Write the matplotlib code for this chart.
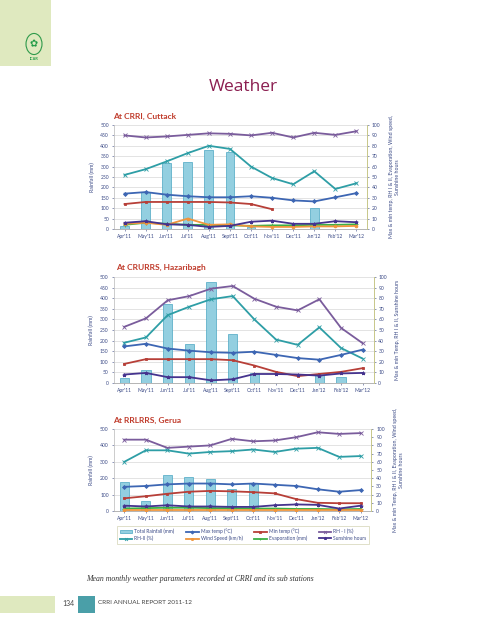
import matplotlib
matplotlib.use("Agg")
import matplotlib.pyplot as plt
from matplotlib.patches import Rectangle, Circle
import numpy as np

plt.rcParams['font.family'] = ['Lato', 'DejaVu Sans']

W, H = 486, 640
nan = np.nan

months = ["Apr'11", "May'11", "Jun'11", "Jul'11", "Aug'11", "Sept'11",
          "Oct'11", "Nov'11", "Dec'11", "Jan'12", "Feb'12", "Mar'12"]

# ---- At CRRI, Cuttack ----
cut_rain = [15, 178, 318, 322, 380, 370, 12, 0, 0, 100, 0, 0]
cut_maxt = [34, 35.5, 33, 31.5, 30.5, 30.5, 31.5, 30, 27.5, 26.5, 30.5, 34.5]
cut_mint = [24, 26, 26, 26, 26, 25.5, 24, 19, nan, nan, nan, nan]
cut_rh1 = [90, 88, 89, 90.5, 92, 91.5, 90, 92.5, 88, 92.5, 90.5, 94]
cut_rh2 = [52, 57.5, 65, 73, 80, 77, 60, 49, 43, 55.5, 38.5, 44]
cut_wind = [5, 6, 4, 10, 4, 4.5, 2.5, 2, 2, 2.5, 2.5, 3]
cut_evap = [4, 6, 5, 4, 4, 3.5, 3, 3.5, 3.5, 4, 4, 4.5]
cut_sun = [6, 7.5, 4.5, 4, 2, 3, 7, 8, 5, 5, 7.5, 6.5]

# ---- At CRURRS, Hazaribagh ----
haz_rain = [25, 60, 372, 183, 475, 233, 45, 0, 0, 40, 30, 0]
haz_maxt = [34.5, 37, 32.5, 30.5, 29, 28.5, 29.5, 26.5, 23.5, 22, 26.5, 31.5]
haz_mint = [18, 22.5, 22.5, 22.5, 22.5, 21.5, 16.5, 10.5, 6.5, 8.5, 10.5, 14]
haz_rh1 = [53, 61, 78, 82, 89, 91.5, 79.5, 72, 68.5, 79, 52, 37.5]
haz_rh2 = [38, 43, 64, 72, 79, 82, 60, 41, 36, 52.5, 33, 23]
haz_sun = [8, 9.5, 5.5, 5.5, 2.5, 3.5, 8.5, 8.5, 8, 7, 9, 9.5]

# ---- At RRLRRS, Gerua ----
ger_rain = [175, 60, 222, 210, 195, 137, 173, 0, 0, 0, 0, 0]
ger_maxt = [29.5, 30.5, 32.5, 33.5, 33.5, 32.5, 33.5, 32, 30.5, 26.5, 23.5, 25.5]
ger_mint = [15.5, 18, 21, 23.5, 24.5, 24, 23, 21.5, 14.5, 10, 9.5, 9.5]
ger_rh1 = [87, 87, 77, 78.5, 80, 88, 85, 86, 90, 96, 94, 95]
ger_rh2 = [60, 74, 74, 70, 72, 73, 75, 72, 76, 77, 66, 67]
ger_wind = [1, 1, 1, 1, 1, 1, 1, 1, 1, 1, 1, 1]
ger_evap = [3, 3.5, 4, 4, 3.5, 3.5, 3, 3, 2.5, 2.5, 2, 2.5]
ger_sun = [6.5, 5.5, 7, 5.5, 5.5, 5, 5, 7, 8, 7.5, 3, 6.5]

labels = {
    "rain": "Total Rainfall (mm)", "maxt": "Max temp (°C)", "mint": "Min temp (°C)",
    "rh1": "RH - I (%)", "rh2": "RH-II (%)", "wind": "Wind Speed (km/h)",
    "evap": "Evaporation (mm)", "sun": "Sunshine hours",
}
colors = {"maxt": "#3d66b3", "mint": "#b73f38", "rh1": "#7a5c9c", "rh2": "#2e9ea6",
          "wind": "#f0953c", "evap": "#3cb045", "sun": "#45338e"}
markers = {"maxt": "D", "mint": "s", "rh1": "x", "rh2": "x", "wind": "o",
           "evap": "+", "sun": "*"}

TICKC = "#3b4a86"


def fx(x):
    return x / W


def fy(y):
    return 1 - y / H


fig = plt.figure(figsize=(W / 100, H / 100), dpi=100)
fig.patch.set_facecolor("white")

# page decoration
fig.patches.append(Rectangle((0, fy(66)), fx(51), 66 / H, transform=fig.transFigure,
                             facecolor="#dfe9bf", edgecolor="none"))
fig.patches.append(Circle((fx(34), fy(44)), 8 / W, transform=fig.transFigure,
                          facecolor="none", edgecolor="#2e9a4a", lw=0.8))
fig.text(fx(34), fy(44), "✿", color="#1f9a45", fontsize=7, ha="center", va="center",
         family=["DejaVu Sans"])
fig.text(fx(34), fy(59), "ICAR", color="#1f9a45", fontsize=2.8, ha="center", va="center",
         fontweight="bold")
fig.text(fx(243), fy(87), "Weather", color="#8b1e50", fontsize=12.5, ha="center",
         va="center", family=["Open Sans", "DejaVu Sans"])

fig.text(fx(86), fy(579), "Mean monthly weather parameters recorded at CRRI and its sub stations",
         fontsize=5.6, style="italic", family=["Liberation Serif", "DejaVu Serif"],
         color="#333333", ha="left", va="center")
fig.patches.append(Rectangle((0, fy(613)), fx(55), 17 / H, transform=fig.transFigure,
                             facecolor="#dfe9bf", edgecolor="none"))
fig.patches.append(Rectangle((fx(78), fy(613)), fx(17), 17 / H, transform=fig.transFigure,
                             facecolor="#4a9fa8", edgecolor="none"))
fig.text(fx(62), fy(603), "134", fontsize=5, color="#444444", ha="left", va="center")
fig.text(fx(98), fy(603), "CRRI ANNUAL REPORT 2011-12", fontsize=4.6, color="#444444",
         ha="left", va="center")


def chart(box, title, title_xy, rain, series, ystep, rlabel):
    x0, x1, ytop, ybot = box
    ax = fig.add_axes([fx(x0), fy(ybot), fx(x1 - x0), (ybot - ytop) / H])
    x = np.arange(len(months))
    bars = ax.bar(x, rain, width=0.42, color="#93cfe0", edgecolor="#4aa6c2", lw=0.5,
                  label=labels["rain"], zorder=2)
    ax.set_xlim(-0.5, len(months) - 0.5)
    ax.set_ylim(0, 500)
    ax.set_yticks(np.arange(0, 501, ystep))
    ax.yaxis.grid(True, color="#d8d8d8", lw=0.5)
    ax.set_axisbelow(True)
    ax.set_xticks(x)
    ax.set_xticklabels(months)
    ax.tick_params(axis="both", labelsize=3.6, colors=TICKC, length=1.5, width=0.4, pad=2)
    ax.set_ylabel("Rainfall (mm)", fontsize=3.8, color=TICKC, labelpad=4)
    for s in ["top", "right"]:
        ax.spines[s].set_visible(False)
    ax.spines["left"].set_color("#c4c4c4")
    ax.spines["bottom"].set_color("#a8a8a8")
    for s in ["left", "bottom"]:
        ax.spines[s].set_linewidth(0.6)

    ax2 = ax.twinx()
    handles = {"rain": bars}
    for key, vals in series:
        ln, = ax2.plot(x, vals, color=colors[key], lw=1.3, marker=markers[key],
                       ms=2.0 if markers[key] not in ("x", "+", "*") else 2.6,
                       mew=0.6, label=labels[key], zorder=3)
        handles[key] = ln
    ax2.set_ylim(0, 100)
    ax2.set_yticks(np.arange(0, 101, 10))
    ax2.tick_params(axis="y", labelsize=3.6, colors=TICKC, length=1.5, width=0.4, pad=2)
    for s in ["top", "left", "bottom"]:
        ax2.spines[s].set_visible(False)
    ax2.spines["right"].set_color("#c7c78a")
    ax2.spines["right"].set_linewidth(0.7)
    ax2.set_ylabel(rlabel, fontsize=3.8, color=TICKC, rotation=90, labelpad=6,
                   linespacing=1.3)
    fig.text(fx(title_xy[0]), fy(title_xy[1]), title, fontsize=6, fontweight="bold",
             color="#c03b2b", ha="left", va="center")
    return ax, handles


chart((114, 367, 125, 229), "At CRRI, Cuttack", (113, 116), cut_rain,
      [("rh1", cut_rh1), ("rh2", cut_rh2), ("maxt", cut_maxt), ("mint", cut_mint),
       ("evap", cut_evap), ("wind", cut_wind), ("sun", cut_sun)], 50,
      "Max & min temp, RH I & II, Evaporation, Wind speed,\nSunshine hours")

chart((113.5, 373.5, 277, 383), "At CRURRS, Hazaribagh", (116, 267),
      haz_rain,
      [("rh1", haz_rh1), ("rh2", haz_rh2), ("maxt", haz_maxt), ("mint", haz_mint),
       ("sun", haz_sun)], 50,
      "Max & min Temp, RH I & II, Sunshine hours")

ax3, h3 = chart((113.6, 371.4, 429, 511), "At RRLRRS, Gerua", (113, 420),
                ger_rain,
                [("rh1", ger_rh1), ("rh2", ger_rh2), ("maxt", ger_maxt), ("mint", ger_mint),
                 ("evap", ger_evap), ("wind", ger_wind), ("sun", ger_sun)], 100,
                "Max & min Temp, RH I & II, Evaporation, Wind speed,\nSunshine hours")

order = ["rain", "rh2", "maxt", "wind", "mint", "evap", "rh1", "sun"]
leg = fig.legend([h3[k] for k in order], [labels[k] for k in order], ncol=4,
                 loc="center", bbox_to_anchor=(fx(243), fy(535)), fontsize=3.5,
                 frameon=True, fancybox=False, edgecolor="#c8c8a0", handlelength=2.6,
                 handleheight=0.6, handletextpad=0.4, columnspacing=2.4, borderpad=0.5,
                 labelspacing=0.35, markerscale=0.8)
leg.get_frame().set_linewidth(0.5)
for t in leg.get_texts():
    t.set_color(TICKC)

fig.savefig("out.png", dpi=100, facecolor="white")
